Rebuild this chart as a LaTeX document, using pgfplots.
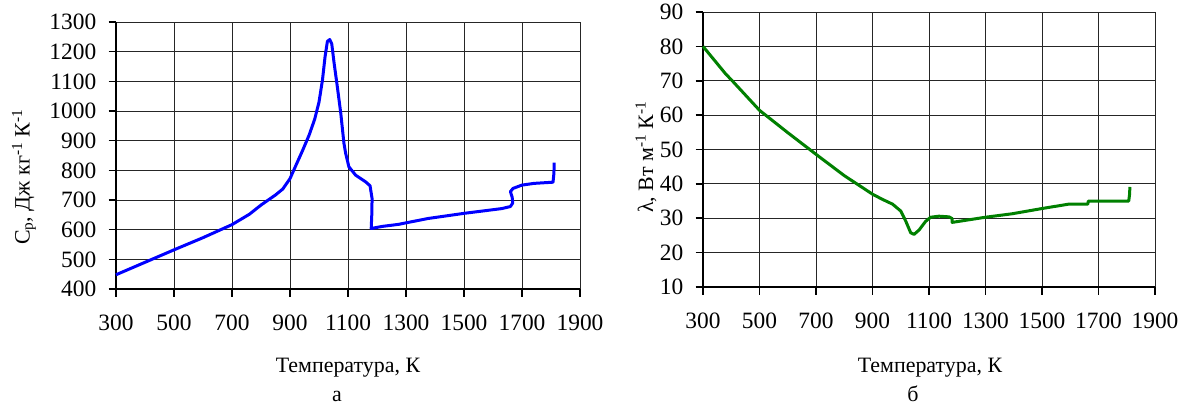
\documentclass[border=0pt]{standalone}
\usepackage{fontspec}
\setmainfont{Liberation Serif}
\usepackage{pgfplots}
\pgfplotsset{compat=1.18}
\definecolor{cpblue}{RGB}{0,0,255}
\definecolor{lamgreen}{RGB}{0,128,0}
\pgfplotsset{
  myax/.style={
    anchor=south west, scale only axis,
    xmin=300, xmax=1900,
    xtick={300,500,...,1900},
    axis x line*=bottom, axis y line*=left,
    axis line style={-, black, line width=2bp},
    grid=major,
    major grid style={black!85, line width=0.9bp},
    tick align=outside, major tick length=7.5bp,
    every tick/.style={black, line width=1.6bp},
    scaled ticks=false,
    /pgf/number format/1000 sep={},
    /pgf/number format/assume math mode=true,
    tick label style={font=\fontsize{23.5}{27}\selectfont},
    xticklabel style={anchor=north, inner sep=0pt, yshift=-18bp},
    yticklabel style={anchor=east, inner sep=0pt, xshift=-12bp},
    clip=false,
  }
}
\begin{document}
\fontsize{22}{26}\selectfont
\begin{tikzpicture}[x=1bp,y=1bp]
\useasboundingbox (0,0) rectangle (1179,406);
\begin{axis}[myax, at={(116bp,117bp)}, width=464bp, height=267bp,
  ymin=400, ymax=1300, ytick={400,500,...,1300}]
\addplot[cpblue, line width=3bp, line join=round] coordinates {
(300,448) (400,490) (500,532) (600,573) (700,617) (760,652) (800,683)
(850,717) (875,737) (900,772) (920,816) (943,866) (966,919) (985,972)
(1000,1030) (1012,1105) (1021,1184) (1029,1235) (1037,1241) (1044,1226)
(1052,1162) (1063,1083) (1075,993) (1086,891) (1092,857) (1103,812)
(1126,784) (1161,761) (1176,748) (1183,705) (1182,650) (1180,604)
(1218,611) (1275,618) (1300,623) (1378,638) (1500,655) (1630,671)
(1660,678) (1668,690) (1666,710) (1660,728) (1669,739) (1699,750)
(1741,756) (1774,758) (1807,760) (1810,790) (1811,826)
};
\end{axis}
\begin{axis}[myax, at={(703bp,119bp)}, width=452bp, height=275bp,
  ymin=10, ymax=90, ytick={10,20,...,90}]
\addplot[lamgreen, line width=3bp, line join=round] coordinates {
(300,80) (340,76) (380,72) (400,70.3) (500,61.4) (600,54.9) (700,48.6)
(800,42.4) (900,37.0) (935,35.5) (971,34.1) (1000,32.1)
(1018,29.1) (1035,25.8) (1047,25.3) (1065,26.6) (1088,29.1) (1106,30.3)
(1135,30.6) (1171,30.4) (1182,29.9) (1182,28.8) (1206,29.1) (1300,30.3)
(1394,31.3) (1498,32.8) (1594,34.1) (1662,34.1) (1664,35.0) (1700,35.0)
(1807,35.0) (1810,37) (1811,39.1)
};
\end{axis}
\node[rotate=90] at (24,229) {C\textsubscript{p}, Дж кг\textsuperscript{-1} К\textsuperscript{-1}};
\node[rotate=90] at (646,249) {λ, Вт м\textsuperscript{-1} К\textsuperscript{-1}};
\node[anchor=base] at (348,34) {Температура, К};
\node[anchor=base] at (930,34) {Температура, К};
\node[anchor=base] at (337,5) {а};
\node[anchor=base] at (913,5) {б};
\end{tikzpicture}
\end{document}
